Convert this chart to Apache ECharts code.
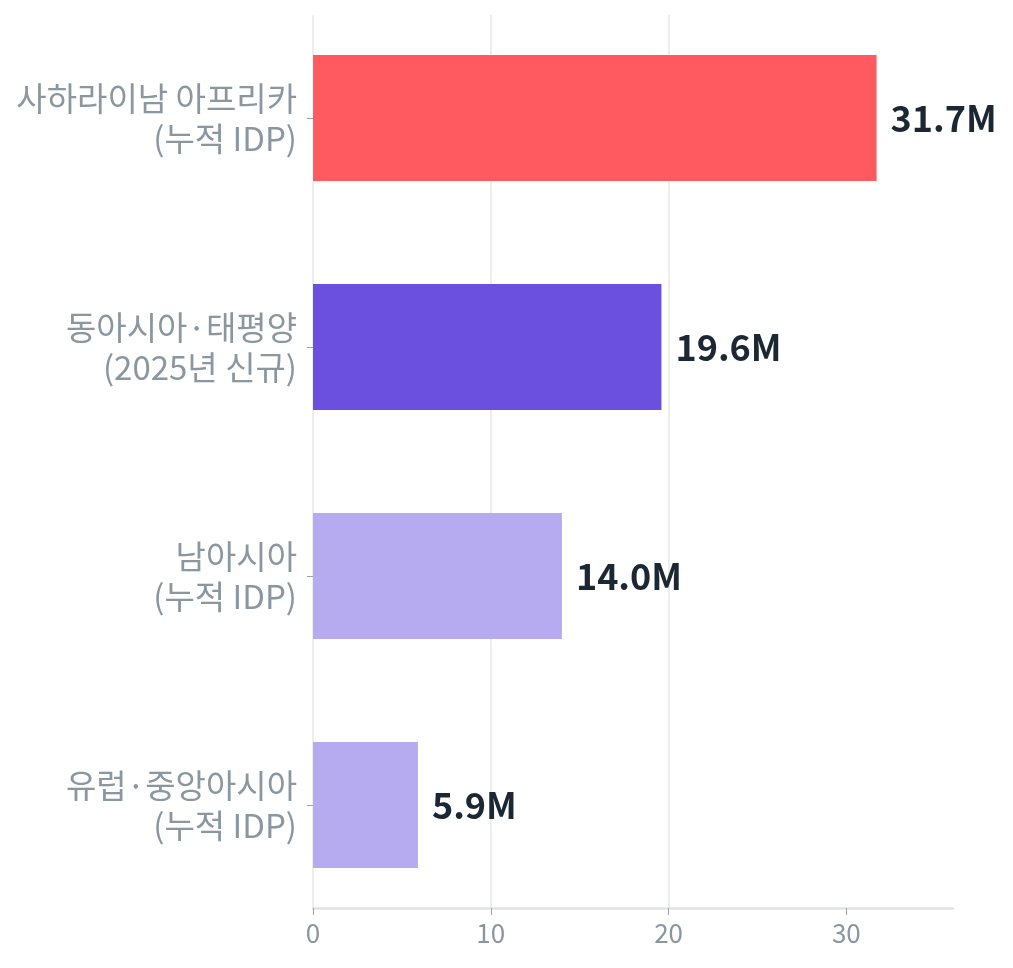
<!DOCTYPE html>
<html>
<head>
<meta charset="utf-8">
<script src="https://cdn.jsdelivr.net/npm/echarts@6/dist/echarts.min.js"></script>
<style>
  html, body { margin: 0; padding: 0; background: #fff; }
  #main { width: 1013px; height: 968px; }
</style>
</head>
<body>
<div id="main"></div>
<script>
// regions, top to bottom
let regions = [
    '사하라이남 아프리카\n(누적 IDP)',
    '동아시아·태평양\n(2025년 신규)',
    '남아시아\n(누적 IDP)',
    '유럽·중앙아시아\n(누적 IDP)'
];
// displaced people, millions
let displaced = [31.7, 19.6, 14.0, 5.9];
let bar_colors = ['#ff5a5f', '#6b4fdf', '#b6aaf0', '#b6aaf0'];
let x_ticks = [0, 10, 20, 30];
let x_max = 36;

let font = "'Noto Sans CJK KR', 'Noto Sans', sans-serif";

let chart = echarts.init(document.getElementById('main'));

let bar_data = [];
for (let i = 0; i < displaced.length; i++) {
    bar_data.push({ value: displaced[i], itemStyle: { color: bar_colors[i] } });
}

let option = {
    backgroundColor: '#fff',
    animation: false,
    grid: [
        // grid 0: only the x axis + grid lines
        { left: 313, right: 60, top: 15, bottom: 60 },
        // grid 1: the bars, a bit taller than the plot frame
        { left: 313, right: 60, top: 3.5, bottom: 48.5 }
    ],
    xAxis: [
        {
            gridIndex: 0,
            type: 'value',
            min: 0,
            max: x_max,
            interval: 10,
            axisLine: { show: true, lineStyle: { color: '#dfe3e6', width: 2.5 } },
            axisTick: { show: true, length: 7, lineStyle: { color: '#9aa3ab' }, customValues: x_ticks },
            axisLabel: {
                color: '#8a96a0', fontSize: 26, fontFamily: font, margin: 12,
                customValues: x_ticks
            },
            splitLine: {
                show: true, showMinLine: true, showMaxLine: false,
                lineStyle: { color: '#ebedef', width: 2 }
            }
        },
        {
            gridIndex: 1,
            type: 'value',
            min: 0,
            max: x_max,
            show: false
        }
    ],
    yAxis: [
        {
            gridIndex: 0,
            type: 'category',
            data: regions,
            inverse: true,
            show: false
        },
        {
            gridIndex: 1,
            type: 'category',
            data: regions,
            inverse: true,
            axisLine: { show: false },
            axisTick: { show: true, alignWithLabel: true, length: 6, lineStyle: { color: '#9aa3ab' } },
            axisLabel: {
                color: '#8a96a0', fontSize: 33, lineHeight: 40, fontFamily: font,
                align: 'right', margin: 16
            },
            splitLine: { show: false }
        }
    ],
    series: [
        {
            type: 'bar',
            xAxisIndex: 1,
            yAxisIndex: 1,
            data: bar_data,
            barWidth: 126,
            label: {
                show: true,
                position: 'right',
                distance: 14,
                color: '#1b2833',
                fontSize: 36,
                fontWeight: 'bold',
                fontFamily: font,
                formatter: function (p) {
                    return p.value.toFixed(1) + 'M';
                }
            }
        }
    ]
};

chart.setOption(option);
</script>
</body>
</html>
